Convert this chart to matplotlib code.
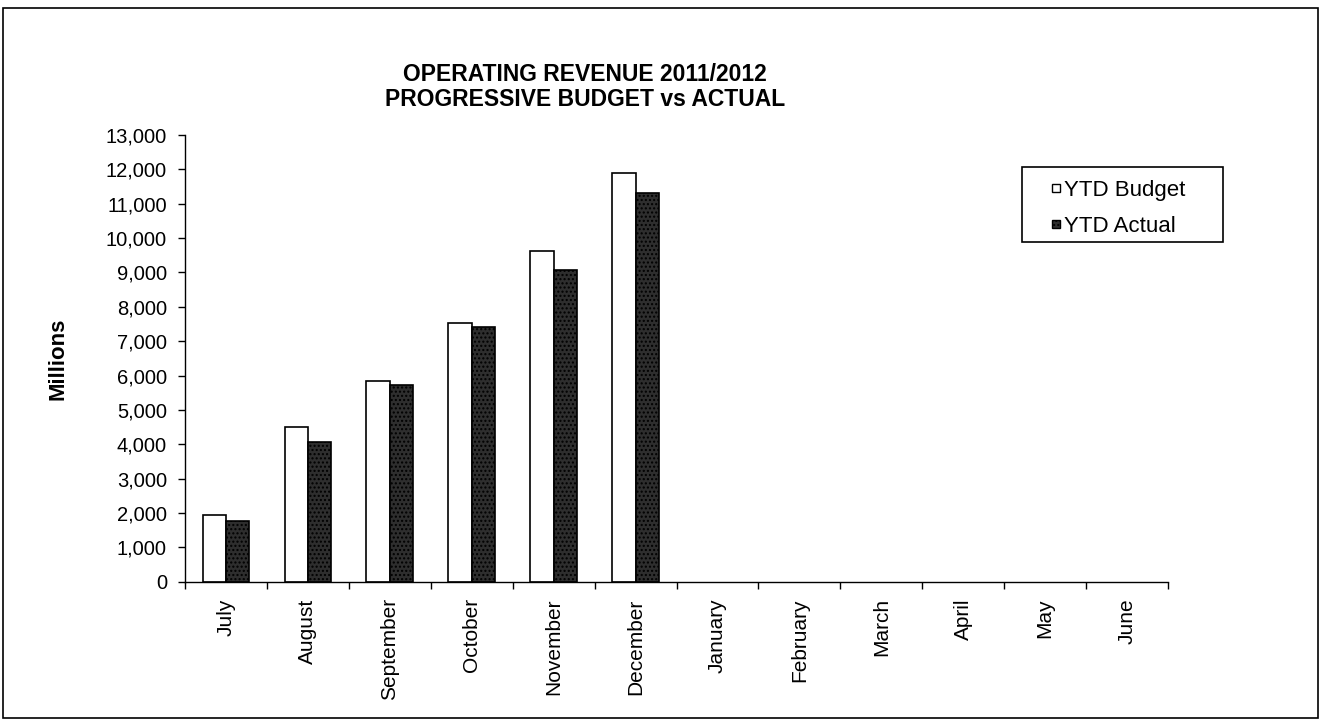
import matplotlib.pyplot as plt
import matplotlib.patches as mpatches
import numpy as np

plt.rcParams['font.family'] = ['Liberation Sans', 'DejaVu Sans']

months = ["July", "August", "September", "October", "November", "December",
          "January", "February", "March", "April", "May", "June"]
ytd_budget = [1950, 4490, 5830, 7520, 9610, 11890]
ytd_actual = [1780, 4080, 5720, 7410, 9060, 11300]
yticks = list(range(0, 13001, 1000))

W, H = 1321, 726
fig = plt.figure(figsize=(W / 100, H / 100), dpi=100)

# outer frame around the chart area
fig.patches.append(mpatches.Rectangle((3 / W, 8 / H), 1315 / W, 710 / H,
                                      transform=fig.transFigure, fill=False,
                                      edgecolor='black', linewidth=1.2))

ax = fig.add_axes([185 / W, 1 - 581.7 / H, (1168 - 185) / W, (581.7 - 135) / H])

x = np.arange(len(months))
bw = 0.285
nb = len(ytd_budget)
ax.bar(x[:nb] - bw / 2, ytd_budget, width=bw, facecolor='white',
       edgecolor='black', linewidth=1.2, label='YTD Budget')
ax.bar(x[:nb] + bw / 2, ytd_actual, width=bw, facecolor='#2e2e2e',
       edgecolor='black', linewidth=1.2, hatch='....', label='YTD Actual')

ax.set_xlim(-0.5, len(months) - 0.5)
ax.set_ylim(0, 13000)
ax.set_yticks(yticks)
ax.set_yticklabels([f"{v:,}" for v in yticks], fontsize=14.5)

# category labels centred, tick marks between categories
ax.set_xticks(x)
ax.set_xticklabels(months, rotation=90, fontsize=15)
ax.tick_params(axis='x', length=0, pad=12)
ax.set_xticks(np.arange(-0.5, len(months), 1.0), minor=True)
ax.tick_params(axis='x', which='minor', length=5, direction='out', width=1)
ax.tick_params(axis='y', length=5, direction='out', width=1, pad=8)

for side in ('top', 'right'):
    ax.spines[side].set_visible(False)
ax.spines['left'].set_linewidth(1.0)
ax.spines['bottom'].set_linewidth(1.0)

ax.set_ylabel('Millions', fontsize=16, fontweight='bold', labelpad=27)

fig.text(585 / W, 1 - 87 / H, 'OPERATING REVENUE 2011/2012\nPROGRESSIVE BUDGET vs ACTUAL',
         ha='center', va='center', fontsize=16.5, fontweight='bold', linespacing=1.08)

# legend entries without their own frame; the box is drawn separately
leg = ax.legend(loc='upper left', bbox_to_anchor=(1052 / W, 1 - 180 / H),
                bbox_transform=fig.transFigure,
                fontsize=16, frameon=False,
                handlelength=0.36, handleheight=0.18, handletextpad=0.2,
                borderpad=0, labelspacing=0.68, borderaxespad=0)
for h in leg.legend_handles:
    h.set_linewidth(1.0)
fig.patches.append(mpatches.Rectangle((1022 / W, 1 - 242 / H), 201 / W, 75 / H,
                                      transform=fig.transFigure, fill=False,
                                      edgecolor='black', linewidth=1.2))

fig.savefig('out.png', dpi=100, facecolor='white')
